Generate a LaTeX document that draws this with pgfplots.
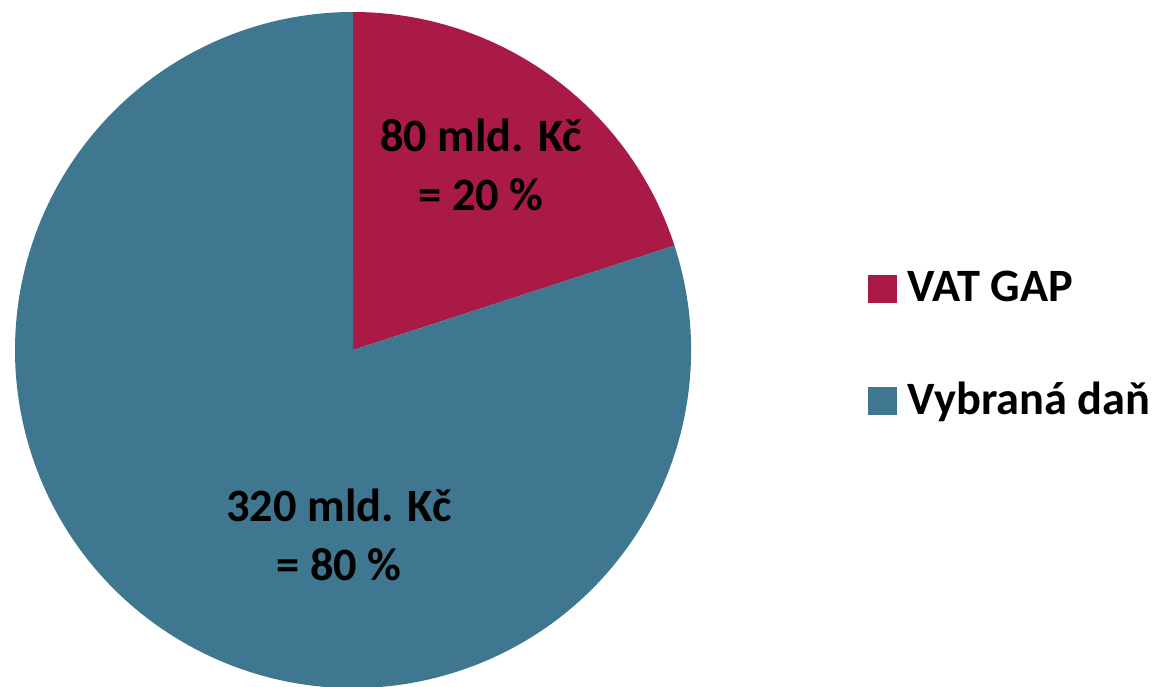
\documentclass[border=0pt]{standalone}
\usepackage{pgfplots}
\pgfplotsset{compat=1.18}
\usepackage{pgfplotstable}
\usepackage{fontspec}
\setmainfont{Carlito}

\definecolor{vatgap}{HTML}{A91B46}
\definecolor{vybrana}{HTML}{3F7690}

% values in mld. Kc
\pgfplotstableread[col sep=comma]{
name,value
VAT GAP,80
Vybraná daň,320
}\piedata

\begin{document}
\begin{tikzpicture}
\pgfplotstablegetelem{0}{value}\of\piedata \let\vgap\pgfplotsretval
\pgfplotstablegetelem{1}{value}\of\piedata \let\vtax\pgfplotsretval
\pgfmathsetmacro{\total}{\vgap+\vtax}
\pgfmathsetmacro{\fgap}{\vgap/\total}
\pgfmathsetmacro{\ftax}{\vtax/\total}
\pgfmathsetmacro{\aone}{90-360*\fgap}
\pgfmathsetmacro{\atwo}{\aone-360*\ftax}
\pgfmathsetmacro{\pgap}{100*\fgap}
\pgfmathsetmacro{\ptax}{100*\ftax}
\begin{axis}[
    scale only axis,
    width=116.1mm, height=68.6mm,
    xmin=0, xmax=1161, ymin=0, ymax=686,
    hide axis,
    /pgf/number format/assume math mode=true,
    font=\fontsize{13.2}{15}\selectfont\bfseries,
    legend style={at={(axis cs:857,430)}, anchor=north west, draw=none, fill=none,
      row sep=6.1mm, font=\fontsize{13.2}{15}\selectfont\bfseries,
      nodes={inner xsep=1.1mm}},
    legend cell align=left,
    legend image code/.code={\fill[#1] (0mm,-1.4mm) rectangle (2.7mm,1.3mm);},
]
\addlegendimage{vatgap}
\addlegendentry{VAT GAP}
\addlegendimage{vybrana}
\addlegendentry{Vybraná daň}
% slices
\fill[vatgap] (axis cs:353,336) -- ++(90:33.8mm) arc[start angle=90, end angle=\aone, radius=33.8mm] -- cycle;
\fill[vybrana] (axis cs:353,336) -- ++(\aone:33.8mm) arc[start angle=\aone, end angle=\atwo, radius=33.8mm] -- cycle;
% labels
\node[align=center, anchor=base] at (axis cs:481,476) {\pgfmathprintnumber{\vgap} mld. Kč\\[0.6mm] = \pgfmathprintnumber[precision=0]{\pgap} \%};
\node[align=center, anchor=base] at (axis cs:339,106) {\pgfmathprintnumber{\vtax} mld. Kč\\[0.6mm] = \pgfmathprintnumber[precision=0]{\ptax} \%};
\end{axis}
\pgfresetboundingbox
\path (0,0) rectangle (116.1mm,68.6mm);
\end{tikzpicture}
\end{document}
